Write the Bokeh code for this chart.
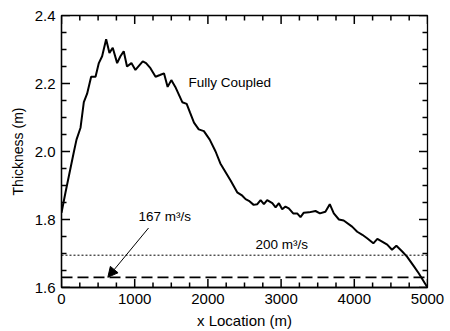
from bokeh.plotting import figure
from bokeh.models import (FixedTicker, Arrow, NormalHead, Label, Range1d,
                          NumeralTickFormatter)
from bokeh.embed import file_html
from bokeh.resources import INLINE

# Fully coupled thickness profile
x_loc = [0, 55, 170, 205, 260, 305, 350, 405, 465, 510, 555, 610, 655, 700, 760,
         805, 850, 895, 955, 1010, 1110, 1155, 1215, 1285, 1345, 1400, 1450, 1500,
         1555, 1650, 1710, 1755, 1810, 1875, 1945, 2025, 2105, 2170, 2310, 2400,
         2470, 2515, 2560, 2625, 2675, 2720, 2765, 2810, 2880, 2925, 2970, 3015,
         3060, 3105, 3165, 3220, 3265, 3310, 3380, 3470, 3530, 3605, 3665, 3720,
         3790, 3855, 3970, 4040, 4110, 4175, 4260, 4315, 4380, 4450, 4515, 4575,
         4655, 4720, 4815, 4880, 5000]
thickness = [1.82, 1.88, 2.00, 2.035, 2.07, 2.145, 2.17, 2.22, 2.22, 2.26, 2.28,
             2.33, 2.29, 2.305, 2.26, 2.28, 2.295, 2.25, 2.26, 2.24, 2.265, 2.26,
             2.245, 2.22, 2.225, 2.23, 2.19, 2.21, 2.19, 2.145, 2.14, 2.115, 2.085,
             2.065, 2.06, 2.035, 2.0, 1.965, 1.915, 1.88, 1.87, 1.86, 1.855, 1.843,
             1.845, 1.857, 1.845, 1.857, 1.848, 1.836, 1.848, 1.83, 1.838, 1.833,
             1.818, 1.818, 1.807, 1.82, 1.821, 1.825, 1.818, 1.823, 1.845, 1.818,
             1.80, 1.797, 1.779, 1.764, 1.755, 1.745, 1.73, 1.743, 1.735, 1.726,
             1.711, 1.723, 1.706, 1.691, 1.662, 1.642, 1.60]

# Uncoupled constant-flow thicknesses
flow_labels = ["167 m\u00b3/s", "200 m\u00b3/s"]
flow_thickness = [1.630, 1.695]

# Ticks
x_major = [0, 1000, 2000, 3000, 4000, 5000]
x_minor = [250, 500, 750, 1250, 1500, 1750, 2250, 2500, 2750, 3250, 3500, 3750,
           4250, 4500, 4750]
y_major = [1.6, 1.8, 2.0, 2.2, 2.4]
y_minor = [1.65, 1.7, 1.75, 1.85, 1.9, 1.95, 2.05, 2.1, 2.15, 2.25, 2.3, 2.35]

X0, X1 = x_major[0], x_major[-1]
Y0, Y1 = y_major[0], y_major[-1]

FONT = "Liberation Sans"
W, H = 450, 331
BL, BR, BT, BB = 61, 23, 15, 43
FW, FH = W - BL - BR, H - BT - BB
DX = (X1 - X0) / FW   # data units per pixel
DY = (Y1 - Y0) / FH

p = figure(width=W, height=H, x_range=Range1d(X0, X1), y_range=Range1d(Y0, Y1),
           output_backend="svg", toolbar_location=None,
           min_border_left=BL, min_border_right=BR, min_border_top=BT, min_border_bottom=BB,
           border_fill_color="white", background_fill_color="white")
p.xgrid.visible = False
p.ygrid.visible = False
p.outline_line_color = "black"
p.outline_line_width = 1.3

for ax, ticks, fmt in ((p.xaxis[0], x_major, "0"), (p.yaxis[0], y_major, "0.0")):
    ax.ticker = FixedTicker(ticks=ticks)
    ax.formatter = NumeralTickFormatter(format=fmt)
    ax.major_tick_in = 0
    ax.major_tick_out = 0
    ax.minor_tick_in = 0
    ax.minor_tick_out = 0
    ax.axis_line_color = "black"
    ax.axis_line_width = 1.3
    ax.major_label_text_font = FONT
    ax.major_label_text_color = "black"
    ax.major_label_text_font_size = "15px"
    ax.major_label_standoff = 6
    ax.axis_label_text_font = FONT
    ax.axis_label_text_font_style = "normal"
    ax.axis_label_text_color = "black"
    ax.axis_label_text_font_size = "15px"
    ax.axis_label_standoff = 5
p.yaxis[0].axis_label_standoff = 6
p.yaxis[0].axis_label_text_font_size = "14px"
p.xaxis[0].axis_label = "x Location (m)"
p.yaxis[0].axis_label = "Thickness (m)"

# inward tick marks on all four sides
MAJ, MIN = 8.5, 5
for ticks, ln in ((x_major, MAJ), (x_minor, MIN)):
    n = len(ticks)
    p.segment(x0=ticks, y0=[Y0] * n, x1=ticks, y1=[Y0 + ln * DY] * n,
              line_color="black", line_width=1.5)
    p.segment(x0=ticks, y0=[Y1] * n, x1=ticks, y1=[Y1 - ln * DY] * n,
              line_color="black", line_width=1.5)
for ticks, ln in ((y_major, MAJ), (y_minor, MIN)):
    n = len(ticks)
    p.segment(x0=[X0] * n, y0=ticks, x1=[X0 + ln * DX] * n, y1=ticks,
              line_color="black", line_width=1.5)
    p.segment(x0=[X1] * n, y0=ticks, x1=[X1 - ln * DX] * n, y1=ticks,
              line_color="black", line_width=1.5)

# constant flow lines
p.line([X0, X1], [flow_thickness[0]] * 2, line_color="black", line_width=1.8,
       line_dash="11 5")
p.line([X0, X1], [flow_thickness[1]] * 2, line_color="black", line_width=1,
       line_dash="2 2")

# fully coupled curve
p.line(x_loc, thickness, line_color="black", line_width=2)

p.add_layout(Label(x=1735, y=2.204, text="Fully Coupled", text_font=FONT,
                   text_font_size="13.5px", text_baseline="middle", text_color="black"))
p.add_layout(Label(x=1052, y=1.808, text=flow_labels[0], text_font=FONT,
                   text_font_size="13.5px", text_baseline="middle", text_color="black"))
p.add_layout(Label(x=2650, y=1.726, text=flow_labels[1], text_font=FONT,
                   text_font_size="13.5px", text_baseline="middle", text_color="black"))
p.add_layout(Arrow(end=NormalHead(size=10, fill_color="black", line_color="black"),
                   x_start=1189, y_start=1.775, x_end=633, y_end=flow_thickness[0],
                   line_color="black", line_width=1))

open("out.html", "w").write(file_html(p, INLINE))
